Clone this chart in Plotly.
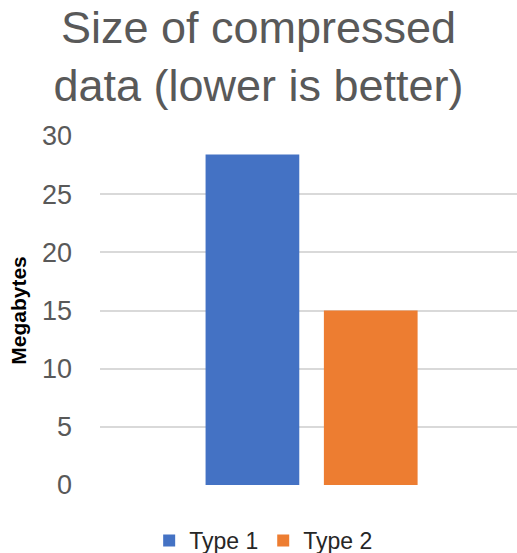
import plotly.graph_objects as go

categories = ["Compressed size"]
series_names = ["Type 1", "Type 2"]
type1_values = [28.4]
type2_values = [15.0]
colors = ["#4472C4", "#ED7D31"]
y_ticks = [0, 5, 10, 15, 20, 25, 30]

fig = go.Figure()
for name, vals, col in zip(series_names, [type1_values, type2_values], colors):
    fig.add_trace(go.Bar(x=categories, y=vals, name=name, marker_color=col,
                         marker_line_width=0))

fig.update_layout(
    width=517, height=553,
    paper_bgcolor="white", plot_bgcolor="white",
    margin=dict(l=100, r=0, t=136, b=68, autoexpand=False),
    font=dict(family="Liberation Sans, Arial, sans-serif"),
    title=dict(text="Size of compressed<br>data (lower is better)",
               x=0.5, xanchor="center", xref="container",
               y=0.9228, yanchor="top", yref="container", pad=dict(t=0),
               font=dict(size=45, color="#595959")),
    barmode="group", bargap=0.424, bargroupgap=0.208,
    showlegend=True,
    legend=dict(orientation="h", x=0.51, xanchor="center", xref="container",
                y=-0.0974, yanchor="top", yref="paper",
                font=dict(size=23, color="#262626"), itemwidth=30,
                traceorder="normal"),
)
fig.update_xaxes(showticklabels=False, showgrid=False, zeroline=False,
                 showline=False, range=[-0.515, 0.5])
fig.update_yaxes(range=[0, 30], tickvals=y_ticks, showgrid=True,
                 gridcolor="#D9D9D9", gridwidth=1.5, zeroline=False,
                 tickfont=dict(size=27, color="#595959"),
                 ticklabelstandoff=27,
                 title=dict(text="<b>Megabytes</b>", font=dict(size=21, color="black"),
                            standoff=9))

fig.write_html("out.html", config={"displayModeBar": False},
               post_script="document.body.style.margin='0';")
